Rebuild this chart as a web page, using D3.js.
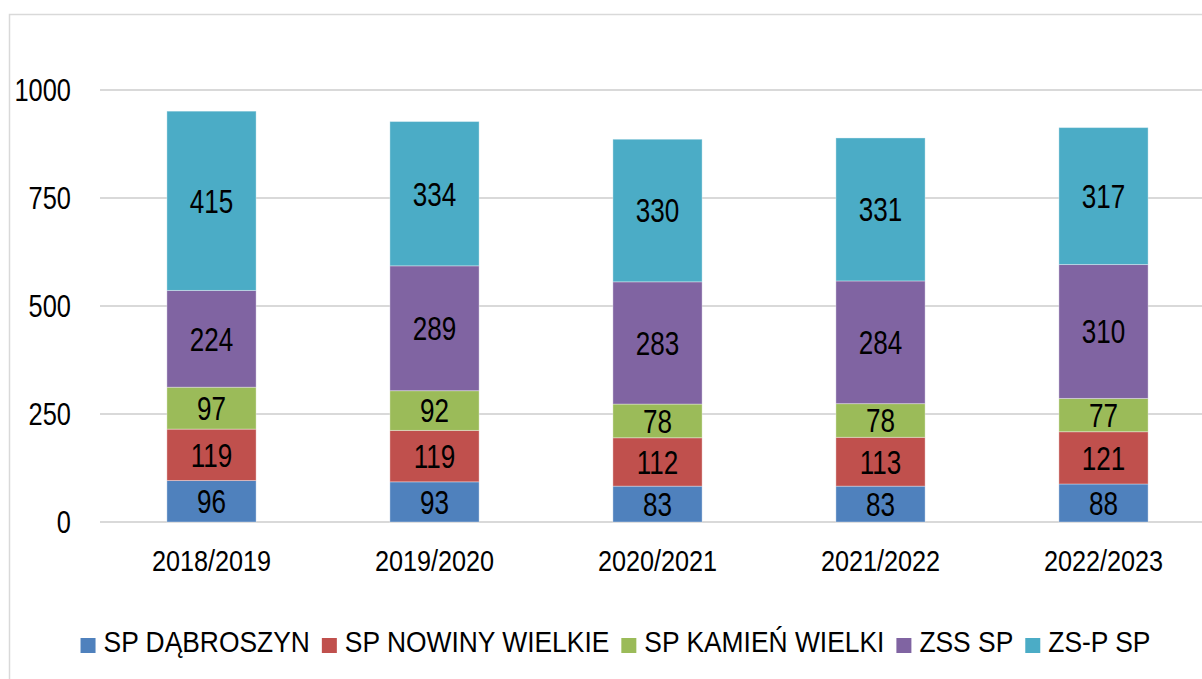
<!DOCTYPE html>
<html>
<head>
<meta charset="utf-8">
<script src="https://cdn.jsdelivr.net/npm/d3@7"></script>
<style>
  body { margin: 0; background: #fff; }
  svg { display: block; }
  text { font-family: "Liberation Sans", Arial, sans-serif; fill: #000; }
</style>
</head>
<body>
<svg id="chart"></svg>
<script>
// dane
const years = ["2018/2019", "2019/2020", "2020/2021", "2021/2022", "2022/2023"];
const seriesNames = ["SP DĄBROSZYN", "SP NOWINY WIELKIE", "SP KAMIEŃ WIELKI", "ZSS SP", "ZS-P SP"];
const spDabroszyn = [96, 93, 83, 83, 88];
const spNowiny = [119, 119, 112, 113, 121];
const spKamien = [97, 92, 78, 78, 77];
const zssSp = [224, 289, 283, 284, 310];
const zspSp = [415, 334, 330, 331, 317];
const yTicks = [0, 250, 500, 750, 1000];
const colors = ["#4F81BD", "#C0504D", "#9BBB59", "#8064A2", "#4BACC6"];

const width = 1202, height = 679;
const svg = d3.select("#chart").attr("width", width).attr("height", height);

// brak czcionki "narrow" - zwężamy zwykłą w poziomie
const NARROW = 0.82;

// ramka
svg.append("rect")
    .attr("x", 9.5).attr("y", 14.5)
    .attr("width", width + 20).attr("height", height + 20)
    .attr("fill", "none")
    .attr("stroke", "#d9d9d9")
    .attr("stroke-width", 1.5);

const plotLeft = 100, plotRight = 1215;
const x = d3.scaleBand().domain(years).range([plotLeft, plotRight]).paddingInner(0.6).paddingOuter(0.3);
const y = d3.scaleLinear().domain([0, 1000]).range([522, 90]);

// tabela do stosu
const table = years.map((yr, i) => ({
    year: yr,
    [seriesNames[0]]: spDabroszyn[i],
    [seriesNames[1]]: spNowiny[i],
    [seriesNames[2]]: spKamien[i],
    [seriesNames[3]]: zssSp[i],
    [seriesNames[4]]: zspSp[i]
}));
const stacked = d3.stack().keys(seriesNames)(table);

// siatka
svg.append("g").selectAll("line")
    .data(yTicks)
    .join("line")
    .attr("x1", plotLeft).attr("x2", width)
    .attr("y1", d => y(d)).attr("y2", d => y(d))
    .attr("stroke", "#d9d9d9")
    .attr("stroke-width", 2);

// oś Y
const yAxis = d3.axisLeft(y).tickValues(yTicks).tickFormat(d3.format("d")).tickSize(0).tickPadding(0);
const yg = svg.append("g").attr("transform", "translate(71,0)").call(yAxis);
yg.select(".domain").remove();
yg.selectAll("text")
    .style("font-size", "31px")
    .attr("dy", "0.35em")
    .attr("transform", `scale(${NARROW},1)`);

// słupki
const layers = svg.append("g").selectAll("g")
    .data(stacked)
    .join("g")
    .attr("fill", (d, i) => colors[i]);

layers.selectAll("rect")
    .data(d => d)
    .join("rect")
    .attr("x", d => x(d.data.year))
    .attr("width", x.bandwidth())
    .attr("y", d => y(d[1]))
    .attr("height", d => y(d[0]) - y(d[1]))
    .attr("stroke", "rgba(255,255,255,0.35)")
    .attr("stroke-width", 1);

// etykiety wartości
layers.selectAll("text")
    .data(d => d)
    .join("text")
    .attr("transform", d => `translate(${x(d.data.year) + x.bandwidth() / 2},${(y(d[0]) + y(d[1])) / 2}) scale(0.79,1)`)
    .attr("dy", "0.36em")
    .attr("text-anchor", "middle")
    .style("font-size", "33px")
    .text(d => d[1] - d[0]);

// oś X
const xAxis = d3.axisBottom(x).tickSize(0).tickPadding(0);
const xg = svg.append("g").attr("transform", "translate(0,550)").call(xAxis);
xg.select(".domain").remove();
xg.selectAll("text")
    .style("font-size", "29px")
    .attr("dy", "0.72em")
    .attr("transform", "scale(0.87,1)");

// legenda
const LEG_SCALE = 0.88;
const legend = svg.append("g");
let lx = 0;
seriesNames.forEach((name, i) => {
    const item = legend.append("g").attr("transform", `translate(${lx},0)`);
    item.append("rect")
        .attr("x", 0).attr("y", -8)
        .attr("width", 15).attr("height", 15)
        .attr("fill", colors[i]);
    const t = item.append("text")
        .attr("transform", `translate(23,6) scale(${LEG_SCALE},1)`)
        .style("font-size", "30px")
        .text(name);
    lx += 23 + t.node().getComputedTextLength() * LEG_SCALE + 12;
});
const legendWidth = lx - 12;
legend.attr("transform", `translate(${615.5 - legendWidth / 2},646)`);
</script>
</body>
</html>
